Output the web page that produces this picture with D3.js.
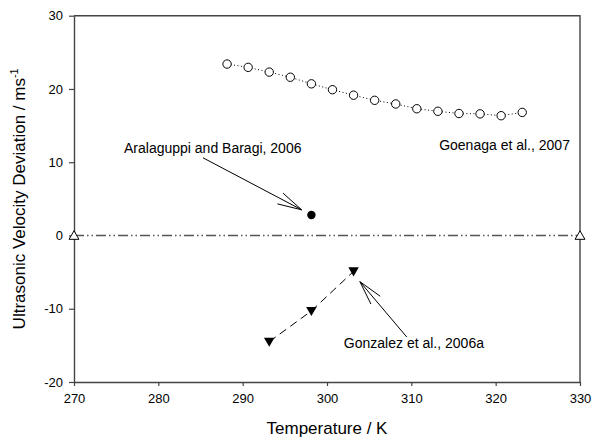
<!DOCTYPE html>
<html>
<head>
<meta charset="utf-8">
<script src="https://cdn.jsdelivr.net/npm/d3@7"></script>
<style>
  html, body { margin: 0; padding: 0; background: #fff; }
  svg { display: block; font-family: "Liberation Sans", Arial, sans-serif; }
</style>
</head>
<body>
<svg id="chart" width="594" height="439"></svg>
<script>
// ---- data ----
const xTicks = [270, 280, 290, 300, 310, 320, 330];
const yTicks = [-20, -10, 0, 10, 20, 30];

const goenagaT = [288.15, 290.65, 293.15, 295.65, 298.15, 300.65, 303.15, 305.65, 308.15, 310.65, 313.15, 315.65, 318.15, 320.65, 323.15];
const goenagaU = [23.4, 22.95, 22.3, 21.6, 20.7, 19.9, 19.15, 18.45, 17.95, 17.3, 16.95, 16.65, 16.6, 16.35, 16.8];

const gonzalezT = [293.15, 298.15, 303.15];
const gonzalezU = [-14.5, -10.3, -4.9];

const aralaguppiT = [298.15];
const aralaguppiU = [2.8];

const zeroT = [270, 330];
const zeroU = [0, 0];

const labels = ["Aralaguppi and Baragi, 2006", "Goenaga et al., 2007", "Gonzalez et al., 2006a"];
// annotation anchors in data units: text start, arrow start, arrow tip
const labelT = [275.93, 313.3, 302.0];
const labelU = [11.3, 11.7, -15.3];
const arrowFromT = [285.3, null, 309.45];
const arrowFromU = [10.6, null, -13.85];
const arrowToT = [297.0, null, 303.9];
const arrowToU = [3.5, null, -6.3];

// ---- layout ----
const W = 594, H = 439;
const margin = { left: 74, right: 14, top: 15.7, bottom: 57 };
const svg = d3.select("#chart");
const x = d3.scaleLinear().domain([270, 330]).range([margin.left, W - margin.right]);
const y = d3.scaleLinear().domain([-20, 30]).range([H - margin.bottom, margin.top]);

const axisColor = "#444";
const fmt = d => String(d);

// frame (top and right)
svg.append("path")
  .attr("d", `M${x(270)},${y(30)}H${x(330)}V${y(-20)}`)
  .attr("fill", "none").attr("stroke", axisColor).attr("stroke-width", 1.4);

// axes
const gx = svg.append("g").attr("transform", `translate(0,${y(-20)})`)
  .call(d3.axisBottom(x).tickValues(xTicks).tickSize(4).tickSizeOuter(0).tickPadding(8).tickFormat(fmt));
const gy = svg.append("g").attr("transform", `translate(${x(270)},0)`)
  .call(d3.axisLeft(y).tickValues(yTicks).tickSize(5).tickSizeOuter(0).tickPadding(6).tickFormat(fmt));
[gx, gy].forEach(g => {
  g.select(".domain").attr("stroke", axisColor).attr("stroke-width", 1.4);
  g.selectAll(".tick line").attr("stroke", axisColor).attr("stroke-width", 1.2);
  g.selectAll(".tick text").attr("fill", "#000").style("font-size", "13px")
    .style("font-family", '"Liberation Sans", Arial, sans-serif');
});

// axis titles
svg.append("text")
  .attr("x", (x(270) + x(330)) / 2).attr("y", 434)
  .attr("text-anchor", "middle").style("font-size", "17px")
  .text("Temperature / K");

const yt = svg.append("text")
  .attr("transform", `translate(25,${(y(-20) + y(30)) / 2}) rotate(-90)`)
  .attr("text-anchor", "middle").style("font-size", "17px");
yt.append("tspan").text("Ultrasonic Velocity Deviation / ms");
yt.append("tspan").attr("dy", -7).style("font-size", "11px").text("-1");

// zero reference line
const line = d3.line().x(d => x(d[0])).y(d => y(d[1]));
svg.append("path")
  .attr("d", line(d3.zip(zeroT, zeroU)))
  .attr("fill", "none").attr("stroke", "#555").attr("stroke-width", 1.3)
  .attr("stroke-dasharray", "10,3,1.5,3,1.5,3");
svg.selectAll(".zeroPt").data(d3.zip(zeroT, zeroU)).join("path")
  .attr("transform", d => `translate(${x(d[0])},${y(d[1]) + 1})`)
  .attr("d", d3.symbol(d3.symbolTriangle, 42)())
  .attr("fill", "#fff").attr("stroke", "#000").attr("stroke-width", 1);

// Goenaga
svg.append("path")
  .attr("d", line(d3.zip(goenagaT, goenagaU)))
  .attr("fill", "none").attr("stroke", "#000").attr("stroke-width", 1)
  .attr("stroke-dasharray", "1,2.5");
svg.selectAll(".goen").data(d3.zip(goenagaT, goenagaU)).join("circle")
  .attr("cx", d => x(d[0])).attr("cy", d => y(d[1])).attr("r", 4.2)
  .attr("fill", "#fff").attr("stroke", "#000").attr("stroke-width", 1);

// Gonzalez
svg.append("path")
  .attr("d", line(d3.zip(gonzalezT, gonzalezU)))
  .attr("fill", "none").attr("stroke", "#000").attr("stroke-width", 1)
  .attr("stroke-dasharray", "8,5");
svg.selectAll(".gonz").data(d3.zip(gonzalezT, gonzalezU)).join("path")
  .attr("transform", d => `translate(${x(d[0])},${y(d[1]) - 1}) rotate(180)`)
  .attr("d", d3.symbol(d3.symbolTriangle, 48)())
  .attr("fill", "#000");

// Aralaguppi
svg.selectAll(".aral").data(d3.zip(aralaguppiT, aralaguppiU)).join("circle")
  .attr("cx", d => x(d[0])).attr("cy", d => y(d[1])).attr("r", 4.2)
  .attr("fill", "#000");

// annotations
labels.forEach((t, i) => {
  svg.append("text").attr("x", x(labelT[i])).attr("y", y(labelU[i]))
    .style("font-size", "14px").text(t);
  if (arrowFromT[i] !== null) {
    const x0 = x(arrowFromT[i]), y0 = y(arrowFromU[i]);
    const x1 = x(arrowToT[i]), y1 = y(arrowToU[i]);
    const ang = Math.atan2(y0 - y1, x0 - x1);
    const L = 25, a = 14 * Math.PI / 180;
    const p = d3.path();
    p.moveTo(x0, y0); p.lineTo(x1, y1);
    p.moveTo(x1 + L * Math.cos(ang + a), y1 + L * Math.sin(ang + a)); p.lineTo(x1, y1);
    p.lineTo(x1 + L * Math.cos(ang - a), y1 + L * Math.sin(ang - a));
    svg.append("path").attr("d", p.toString())
      .attr("fill", "none").attr("stroke", "#000").attr("stroke-width", 1);
  }
});
</script>
</body>
</html>
